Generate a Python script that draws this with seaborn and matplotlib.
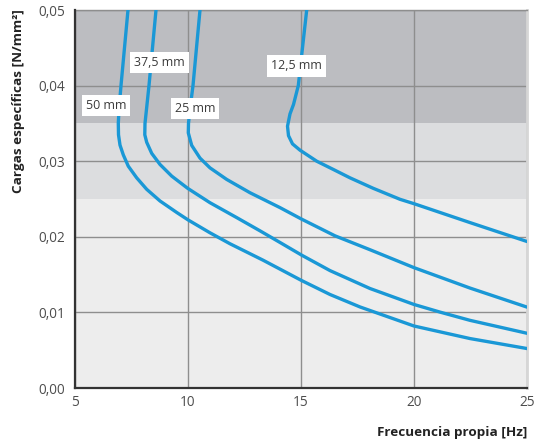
import matplotlib
matplotlib.use("Agg")
import matplotlib.pyplot as plt
import seaborn as sns
import pandas as pd
from matplotlib.ticker import FuncFormatter

sns.set_theme(style="white")
plt.rcParams["font.family"] = ["Open Sans", "DejaVu Sans"]

# Natural frequency [Hz] vs. specific load [N/mm²] for each pad thickness
freq_50 = [7.345, 7.190, 7.035, 6.947, 6.916, 6.925, 6.991, 7.137, 7.358, 7.730, 8.173,
           8.761, 9.500, 10.0, 10.973, 11.858, 13.319, 15.031, 16.283, 17.611, 20.0, 22.478, 25.0]
load_50 = [0.050, 0.045, 0.040, 0.03688, 0.035, 0.0335, 0.03213, 0.03084, 0.02934, 0.02780, 0.02628,
           0.02474, 0.02322, 0.02224, 0.02053, 0.01908, 0.01691, 0.01421, 0.01237, 0.01072, 0.0082, 0.00654, 0.00522]

freq_375 = [8.584, 8.429, 8.274, 8.164, 8.097, 8.088, 8.173, 8.394, 8.761, 9.279, 9.987,
            10.973, 12.155, 13.186, 14.071, 15.031, 16.283, 18.053, 20.0, 21.150, 22.478, 25.0]
load_375 = [0.050, 0.045, 0.040, 0.03688, 0.035, 0.0335, 0.0325, 0.03104, 0.02957, 0.02803, 0.02641,
            0.02451, 0.02254, 0.02079, 0.01925, 0.01757, 0.01553, 0.01316, 0.01105, 0.01004, 0.00895, 0.00724]

freq_25 = [10.531, 10.376, 10.221, 10.088, 10.022, 10.013, 10.164, 10.531, 10.973, 11.712,
           12.743, 14.071, 15.031, 16.504, 18.053, 20.0, 22.478, 25.0]
load_25 = [0.050, 0.045, 0.040, 0.03688, 0.035, 0.03375, 0.03209, 0.03041, 0.02912, 0.02759,
           0.02583, 0.02386, 0.02233, 0.02013, 0.01829, 0.01592, 0.01322, 0.0107]

freq_125 = [15.252, 15.066, 14.881, 14.668, 14.513, 14.403, 14.447, 14.624, 14.956, 15.695,
            16.429, 17.168, 18.199, 19.381, 20.0, 22.478, 25.0]
load_125 = [0.050, 0.045, 0.040, 0.0375, 0.03625, 0.03463, 0.03338, 0.03229, 0.03146, 0.030,
            0.02891, 0.0278, 0.02641, 0.02496, 0.02438, 0.02188, 0.01938]

curve_names = ["50 mm", "37,5 mm", "25 mm", "12,5 mm"]
label_x = [6.37, 8.72, 10.31, 14.82]
label_y = [0.0374, 0.0431, 0.0370, 0.0426]

x_ticks = [5, 10, 15, 20, 25]
y_ticks = [0.00, 0.01, 0.02, 0.03, 0.04, 0.05]

frames = []
for name, fx, ly in zip(curve_names,
                        [freq_50, freq_375, freq_25, freq_125],
                        [load_50, load_375, load_25, load_125]):
    frames.append(pd.DataFrame({"freq": fx, "load": ly, "curve": name}))
df = pd.concat(frames, ignore_index=True)

fig = plt.figure(figsize=(5.39, 4.44), dpi=100)
ax = fig.add_axes([75 / 539, 56 / 444, 452 / 539, 378 / 444])

# shaded load zones
ax.set_facecolor("#ededed")
ax.axhspan(0.025, 0.035, color="#dcdddf", zorder=0, lw=0)
ax.axhspan(0.035, 0.05, color="#bcbdc1", zorder=0, lw=0)

ax.set_xlim(5, 25)
ax.set_ylim(0, 0.05)
ax.set_xticks(x_ticks)
ax.set_yticks(y_ticks)
ax.grid(True, color="#8e8e8e", lw=1.0, zorder=1)
ax.set_axisbelow(True)

sns.lineplot(data=df, x="freq", y="load", units="curve", estimator=None,
             sort=False, color="#1a98d6", lw=2.4, ax=ax, zorder=3, legend=False)
for ln in ax.lines:
    ln.set_solid_joinstyle("round")

for name, tx, ty in zip(curve_names, label_x, label_y):
    ax.text(tx, ty, name, ha="center", va="center", fontsize=8.9, color="#3a3a3a",
            zorder=5, bbox=dict(boxstyle="square,pad=0.33", fc="white", ec="none"))

ax.yaxis.set_major_formatter(FuncFormatter(lambda v, p: f"{v:.2f}".replace(".", ",")))
ax.xaxis.set_major_formatter(FuncFormatter(lambda v, p: f"{v:g}"))
ax.tick_params(axis="both", length=0, labelsize=9.8, labelcolor="#4d4d4d")
ax.tick_params(axis="x", pad=5)
ax.tick_params(axis="y", pad=7)

for side in ["left", "bottom"]:
    ax.spines[side].set_color("#333333")
    ax.spines[side].set_linewidth(1.6)
    ax.spines[side].set_zorder(4)
ax.spines["top"].set_color("#8e8e8e")
ax.spines["top"].set_linewidth(1.0)
ax.spines["right"].set_color("#d6d6d6")
ax.spines["right"].set_linewidth(2.0)

ax.set_xlabel("")
ax.set_ylabel("")
fig.text(527 / 539, 1 - 432 / 444, "Frecuencia propia [Hz]", ha="right", va="center",
         fontsize=9.7, fontweight="bold", color="#222222")
fig.text(19 / 539, 1 - 101 / 444, "Cargas específicas [N/mm²]", ha="center", va="center",
         rotation=90, fontsize=9.7, fontweight="bold", color="#222222")

fig.savefig("out.png", dpi=100, facecolor="white")
